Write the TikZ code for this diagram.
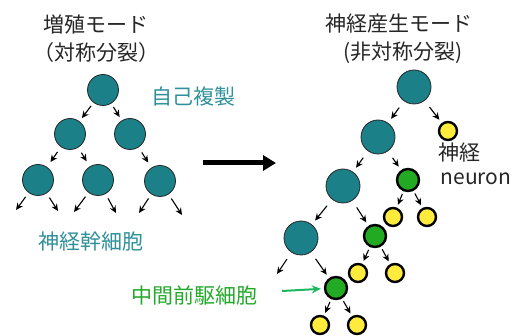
\documentclass[tikz,border=0pt]{standalone}
\usepackage{fontspec}
\setmainfont{Noto Sans CJK JP}
\usetikzlibrary{arrows.meta}
\definecolor{tealfill}{HTML}{1B8088}
\definecolor{tealtext}{HTML}{2E9098}
\definecolor{grnfill}{HTML}{22AA22}
\definecolor{grntext}{HTML}{22A82A}
\definecolor{grnarrow}{HTML}{1DB860}
\definecolor{yelfill}{HTML}{FFEB3B}
\begin{document}
\begin{tikzpicture}[x=1pt,y=-1pt,
  lbl/.style={font=\fontsize{21}{24}\selectfont, inner sep=0pt},
  tealL/.style={circle, fill=tealfill, draw=black!85, line width=0.8pt, minimum size=31pt, inner sep=0pt},
  tealR/.style={circle, fill=tealfill, draw=black!85, line width=0.8pt, minimum size=34pt, inner sep=0pt},
  grn/.style={circle, fill=grnfill, draw=black, line width=2.4pt, minimum size=22pt, inner sep=0pt},
  yel/.style={circle, fill=yelfill, draw=black, line width=2.4pt, minimum size=18pt, inner sep=0pt},
  arr/.style={-{Stealth[length=7pt,width=6.5pt]}, line width=1.1pt, black},
  arrL/.style={arr, shorten <=4pt, shorten >=4pt},
  arrR/.style={arr, shorten <=8pt, shorten >=5pt},
  arrS/.style={arr, shorten <=3pt, shorten >=3pt},
  arrF/.style={arr, shorten <=5pt},
]
\useasboundingbox (0,0) rectangle (527,336);
% titles
\node[lbl, text=black!85] (t1) at (96,25) {増殖モード};
\node[lbl, text=black!85] (t2) at (96,53) {（対称分裂）};
\node[lbl, text=black!85] (t3) at (399,24) {神経産生モード};
\node[lbl, text=black!85] (t4) at (403,53) {(非対称分裂)};
% left tree
\node[tealL] (a0) at (103,90) {};
\node[tealL] (a1) at (70,134) {};
\node[tealL] (a2) at (130,134) {};
\node[tealL] (b1) at (38,180) {};
\node[tealL] (b2) at (98,180) {};
\node[tealL] (b3) at (160,181) {};
\draw[arrL] (a0) -- (a1);
\draw[arrL] (a0) -- (a2);
\draw[arrL, shorten <=6pt, shorten >=6pt] (a1) -- (b1);
\draw[arrL, shorten <=6pt, shorten >=6pt] (a1) -- (b2);
\draw[arrL, shorten <=6pt, shorten >=6pt] (a2) -- (b3);
\coordinate (b1L) at (16,210); \coordinate (b1R) at (58,211);
\coordinate (b2L) at (74,212); \coordinate (b2R) at (116,213);
\coordinate (b3L) at (139,213); \coordinate (b3R) at (182,215);
\draw[arrF] (b1) -- (b1L); \draw[arrF] (b1) -- (b1R);
\draw[arrF] (b2) -- (b2L); \draw[arrF] (b2) -- (b2R);
\draw[arrF] (b3) -- (b3L); \draw[arrF] (b3) -- (b3R);
\node[lbl, text=tealtext] (self) at (193,97) {自己複製};
\node[lbl, text=tealtext] (nsc) at (91,242) {神経幹細胞};
% big arrow
\coordinate (bigS) at (203,163);
\coordinate (bigE) at (276,163);
\draw[line width=5pt, -{Triangle[length=13pt,width=15pt]}] (bigS) -- (bigE);
% right tree
\node[tealR] (r0) at (414,87) {};
\node[tealR] (r1) at (378,137) {};
\node[tealR] (r2) at (343,186) {};
\node[tealR] (r3) at (301,238) {};
\node[yel] (y0) at (448,131) {};
\node[grn] (g1) at (408,180) {};
\node[grn] (g2) at (375,236) {};
\node[grn] (g3) at (336,288) {};
\node[yel] (y1) at (393,217) {};
\node[yel] (y2) at (427,217) {};
\node[yel] (y3) at (358,273) {};
\node[yel] (y4) at (395,273) {};
\node[yel] (y5) at (320,325) {};
\node[yel] (y6) at (357,325) {};
\draw[arrR] (r0) -- (r1);
\draw[arrR, shorten >=4pt] (r0) -- (y0);
\draw[arrR] (r1) -- (r2);
\draw[arrR, shorten >=4pt] (r1) -- (g1);
\draw[arrR] (r2) -- (r3);
\draw[arrR, shorten >=4pt] (r2) -- (g2);
\draw[arrR, shorten >=4pt] (r3) -- (g3);
\coordinate (r3L) at (277,274);
\draw[arr, shorten <=8pt] (r3) -- (r3L);
\draw[arrS] (g1) -- (y1); \draw[arrS] (g1) -- (y2);
\draw[arrS] (g2) -- (y3); \draw[arrS] (g2) -- (y4);
\draw[arrS] (g3) -- (y5); \draw[arrS] (g3) -- (y6);
\node[lbl, text=black!85] (nv) at (459,153) {神経};
\node[lbl, text=black!85] (neu) at (476,179) {neuron};
\node[lbl, text=grntext] (ipc) at (194,295) {中間前駆細胞};
\coordinate (gaS) at (282,291);
\draw[-{Stealth[length=9pt,width=8pt]}, line width=2pt, grnarrow, shorten >=3pt] (gaS) -- (g3);
\end{tikzpicture}
\end{document}
